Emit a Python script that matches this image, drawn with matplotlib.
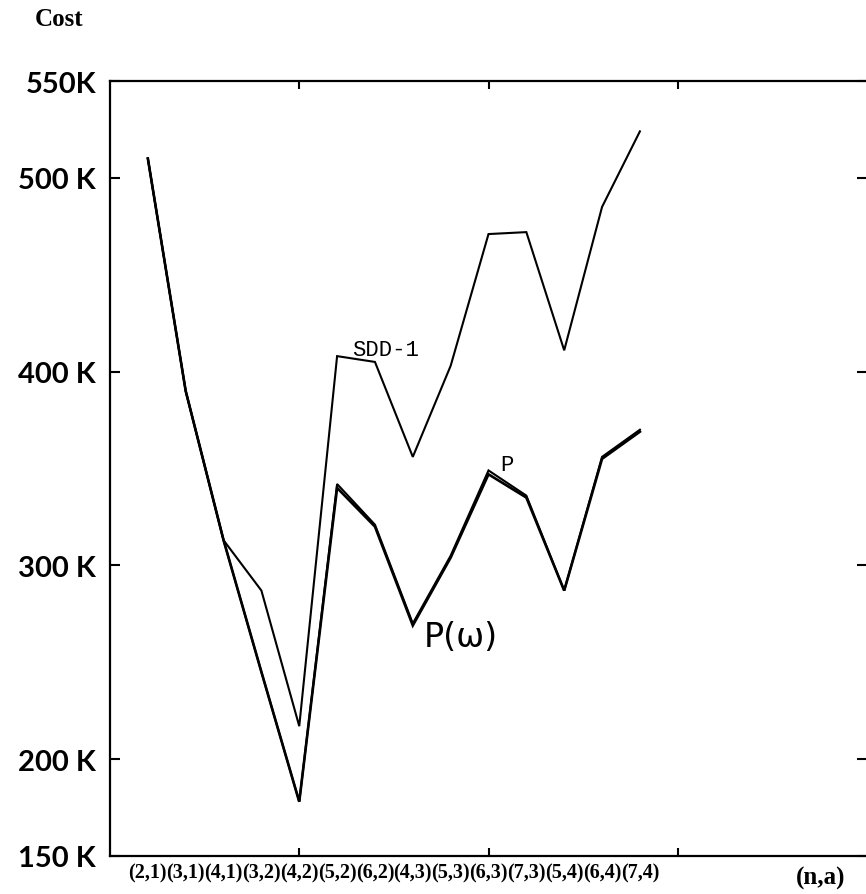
import matplotlib
matplotlib.use("Agg")
import matplotlib.pyplot as plt

# ---- data ----
categories = ["(2,1)", "(3,1)", "(4,1)", "(3,2)", "(4,2)", "(5,2)", "(6,2)",
              "(4,3)", "(5,3)", "(6,3)", "(7,3)", "(5,4)", "(6,4)", "(7,4)"]
positions = list(range(1, 15))
sdd1 = [510, 390, 313, 287, 217, 408, 405, 356, 403, 471, 472, 411, 485, 524]
p_vals = [510, 390, 313, 245, 178, 342, 321, 270, 305, 349, 336, 287, 356, 370]
pw_vals = [510, 390, 313, 245, 178, 340, 320, 269, 304, 347, 335, 287, 355, 369]

y_ticks = [150, 200, 300, 400, 500, 550]
y_labels = ["150 K", "200 K", "300 K", "400 K", "500 K", "550K"]
x_marks = [5, 10, 15]

fig = plt.figure(figsize=(8.66, 8.95), dpi=100)
ax = fig.add_axes([110 / 866, 38 / 895, (867 - 110) / 866, (857 - 82) / 895])

lw = 1.5
ax.plot(positions, sdd1, color="black", lw=lw, solid_joinstyle="miter")
ax.plot(positions, p_vals, color="black", lw=lw, solid_joinstyle="miter")
ax.plot(positions, pw_vals, color="black", lw=lw + 0.4, solid_joinstyle="miter")

ax.set_xlim(0, 20)
ax.set_ylim(150, 550)

for s in ax.spines.values():
    s.set_linewidth(1.6)

ax.xaxis.remove_overlapping_locs = False
# category labels beneath each point (no marks)
ax.set_xticks(positions)
ax.set_xticklabels(categories, fontfamily="Liberation Serif",
                   fontweight="bold", fontsize=14.5)
ax.tick_params(axis="x", which="major", length=0, pad=5)
# tick marks only
ax.set_xticks(x_marks, minor=True)
ax.tick_params(axis="x", which="minor", direction="in", length=6, width=1.5,
               top=True, bottom=True)

ax.set_yticks(y_ticks)
ax.set_yticklabels(y_labels, fontfamily="Lato", fontweight="bold", fontsize=21)
ax.tick_params(axis="y", which="major", direction="in", length=7, width=1.5,
               left=True, right=True, pad=10)

# annotations
ax.text(6.4, 406, "SDD-1", fontfamily="Liberation Mono", fontsize=16,
        ha="left", va="bottom")
ax.text(10.3, 346.5, "P", fontfamily="Liberation Mono", fontsize=16,
        ha="left", va="bottom")
ax.text(8.3, 272, "P(ω)", fontfamily="DejaVu Sans", fontsize=24,
        ha="left", va="top")

fig.text(35 / 866, 1 - 20 / 895, "Cost", fontfamily="Liberation Serif",
         fontweight="bold", fontsize=18, ha="left", va="center")
fig.text(821 / 866, 1 - 878 / 895, "(n,a)", fontfamily="Liberation Serif",
         fontweight="bold", fontsize=18, ha="center", va="center")

fig.savefig("out.png", dpi=100)
